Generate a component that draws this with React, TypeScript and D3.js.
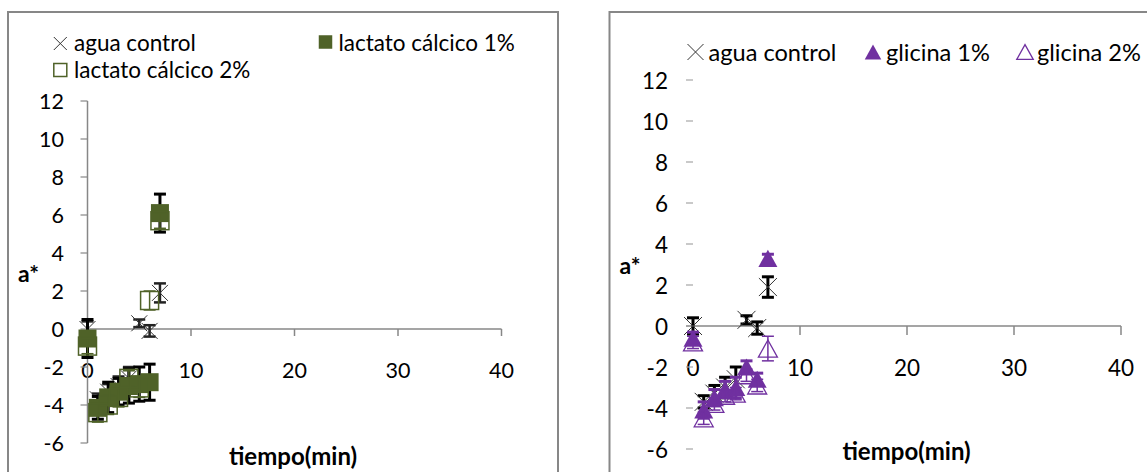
import React from 'react'
import * as d3 from 'd3'

// tiempo (min) de cada medida
const times = [0, 1, 2, 3, 4, 5, 6, 7]

// a* del control con agua (igual en las dos gráficas)
const aguaControl = [0.0, -3.7, -3.3, -3.0, -2.6, 0.3, -0.1, 1.9]
const aguaErr = [0.4, 0.3, 0.4, 0.5, 0.6, 0.2, 0.3, 0.5]

// lactato cálcico
const lactato1 = [-0.5, -4.15, -3.6, -3.3, -3.0, -2.9, -2.8, 6.1]
const lactato1Err = [1.0, 0.6, 0.8, 0.7, 0.9, 0.9, 0.95, 1.0]
const lactato2 = [-0.9, -4.4, -4.0, -3.6, -2.6, -3.1, 1.5, 5.7]
const lactato2Err = [0.4, 0.5, 0.5, 0.5, 0.4, 0.5, 0.5, 0.4]

// glicina
const glicina1 = [-0.6, -4.1, -3.5, -3.1, -3.0, -2.0, -2.6, 3.3]
const glicina1Err = [0.3, 0.4, 0.4, 0.4, 0.5, 0.3, 0.3, 0.2]
const glicina2 = [-0.8, -4.5, -3.8, -3.4, -3.3, -2.4, -2.9, -1.1]
const glicina2Err = [0.3, 0.3, 0.3, 0.3, 0.3, 0.3, 0.3, 0.6]

const xTicks = [0, 10, 20, 30, 40]
const yTicks = [-6, -4, -2, 0, 2, 4, 6, 8, 10, 12]

const FONT = 'Lato, "Open Sans", sans-serif'
const OLIVE = '#4f6228'
const PURPLE = '#7030a0'
const GRAY = '#878787'

const xMark = (cx, cy, r, color = '#333', w = 1) => (
  <path d={`M${cx - r},${cy - r}L${cx + r},${cy + r}M${cx - r},${cy + r}L${cx + r},${cy - r}`}
    stroke={color} strokeWidth={w} fill="none" />
)

const square = (cx, cy, s, filled, color) => (
  <rect x={cx - s / 2} y={cy - s / 2} width={s} height={s}
    fill={filled ? color : 'none'} stroke={color} strokeWidth={filled ? 0 : 1.5} />
)

const triangle = (cx, cy, s, filled, color) => {
  const h = s * 0.9
  return (
    <path d={`M${cx},${cy - h / 2}L${cx + s / 2},${cy + h / 2}L${cx - s / 2},${cy + h / 2}Z`}
      fill={filled ? color : 'none'} stroke={color} strokeWidth={filled ? 0 : 1.3} />
  )
}

const Panel = ({ x, y, series, yAxisLine, tickLen, tickColor, yLabelX, xLabelY, fs }) => {
  return (
    <g fontFamily={FONT}>
      {/* eje x */}
      <line x1={yAxisLine ? x(0) : x(0) - 7} x2={x(40)} y1={y(0)} y2={y(0)} stroke={GRAY} strokeWidth={1.5} />
      {xTicks.slice(1).map(t => (
        <line key={t} x1={x(t)} x2={x(t)} y1={y(0)} y2={y(0) + tickLen} stroke={GRAY} strokeWidth={1.5} />
      ))}
      {xTicks.map(t => (
        <text key={t} x={x(t)} y={xLabelY} textAnchor="middle" dominantBaseline="central"
          fontSize={fs} fill="#000">{t}</text>
      ))}
      {/* eje y */}
      {yAxisLine && <line x1={x(0)} x2={x(0)} y1={y(12)} y2={y(-6)} stroke={GRAY} strokeWidth={1.5} />}
      {yTicks.map(t => (
        <line key={t} x1={x(0) - 7} x2={x(0)} y1={y(t)} y2={y(t)} stroke={tickColor} strokeWidth={1.2} />
      ))}
      {yTicks.map(t => (
        <text key={t} x={yLabelX} y={y(t)} textAnchor="end" dominantBaseline="central"
          fontSize={fs} fill="#000">{t}</text>
      ))}
      {/* series */}
      {series.map((s, si) => (
        <g key={si}>
          {times.map((t, i) => {
            const cx = x(t)
            const hi = y(s.values[i] + s.err[i])
            const lo = y(s.values[i] - s.err[i])
            return (
              <g key={i} stroke={s.errColor} strokeWidth={s.errWidth}>
                <line x1={cx} x2={cx} y1={hi} y2={lo} />
                <line x1={cx - 6} x2={cx + 6} y1={hi} y2={hi} />
                <line x1={cx - 6} x2={cx + 6} y1={lo} y2={lo} />
              </g>
            )
          })}
          {times.map((t, i) => (
            <g key={'m' + i}>{s.marker(x(t), y(s.values[i]))}</g>
          ))}
        </g>
      ))}
    </g>
  )
}

export default function App () {
  const xL = d3.scaleLinear().domain([0, 40]).range([87.5, 501.5])
  const yL = d3.scaleLinear().domain([-6, 12]).range([443, 101])
  const xR = d3.scaleLinear().domain([0, 40]).range([693, 1121])
  const yR = d3.scaleLinear().domain([-6, 12]).range([449, 80])

  const leftSeries = [
    { values: aguaControl, err: aguaErr, errColor: '#222', errWidth: 2.5, marker: (cx, cy) => xMark(cx, cy, 8) },
    { values: lactato1, err: lactato1Err, errColor: '#000', errWidth: 3, marker: (cx, cy) => square(cx, cy, 18, true, OLIVE) },
    { values: lactato2, err: lactato2Err, errColor: OLIVE, errWidth: 1.5, marker: (cx, cy) => square(cx, cy, 18, false, OLIVE) },
  ]
  const rightSeries = [
    { values: aguaControl, err: aguaErr, errColor: '#000', errWidth: 3, marker: (cx, cy) => xMark(cx, cy, 9) },
    { values: glicina1, err: glicina1Err, errColor: PURPLE, errWidth: 3, marker: (cx, cy) => triangle(cx, cy, 19, true, PURPLE) },
    { values: glicina2, err: glicina2Err, errColor: PURPLE, errWidth: 1.5, marker: (cx, cy) => triangle(cx, cy, 19, false, PURPLE) },
  ]

  return (
    <svg width={1147} height={472} style={{ position: 'absolute', left: 0, top: 0, background: '#fff' }}>
      <rect x={0} y={0} width={1147} height={472} fill="#fff" />
      {/* marcos */}
      <rect x={8} y={12} width={550} height={520} fill="none" stroke={GRAY} strokeWidth={2} />
      <rect x={609.5} y={12} width={600} height={520} fill="none" stroke={GRAY} strokeWidth={2} />

      <Panel x={xL} y={yL} series={leftSeries} yAxisLine tickLen={7} tickColor={GRAY}
        yLabelX={64} xLabelY={369.5} fs={21.5} />
      <Panel x={xR} y={yR} series={rightSeries} yAxisLine={false} tickLen={9} tickColor="#a6a6a6"
        yLabelX={668} xLabelY={367.5} fs={22.5} />

      <g fontFamily={FONT}>
        {/* leyenda izquierda */}
        {xMark(60.3, 43.5, 6.5, '#333')}
        <text x={74} y={42} dominantBaseline="central" fontSize={22.5}>agua control</text>
        {square(325.5, 42, 13.5, true, OLIVE)}
        <text x={338.5} y={42} dominantBaseline="central" fontSize={22.5}>lactato cálcico 1%</text>
        {square(60.3, 70, 13, false, OLIVE)}
        <text x={74} y={69} dominantBaseline="central" fontSize={22.5}>lactato cálcico 2%</text>

        {/* leyenda derecha */}
        {xMark(695.5, 52, 8, '#333')}
        <text x={708.5} y={52} dominantBaseline="central" fontSize={23.6}>agua control</text>
        {triangle(873, 52, 16.5, true, PURPLE)}
        <text x={886} y={52} dominantBaseline="central" fontSize={23.6}>glicina 1%</text>
        {triangle(1025, 52, 16.5, false, PURPLE)}
        <text x={1037} y={52} dominantBaseline="central" fontSize={23.6}>glicina 2%</text>

        {/* títulos de ejes */}
        <text x={28.5} y={273} textAnchor="middle" dominantBaseline="central" fontSize={23} fontWeight="bold">a*</text>
        <text x={630} y={265} textAnchor="middle" dominantBaseline="central" fontSize={23} fontWeight="bold">a*</text>
        <text x={293} y={465} textAnchor="middle" fontSize={24} fontWeight="bold">tiempo(min)</text>
        <text x={906.5} y={460} textAnchor="middle" fontSize={24} fontWeight="bold">tiempo(min)</text>
      </g>
    </svg>
  )
}
